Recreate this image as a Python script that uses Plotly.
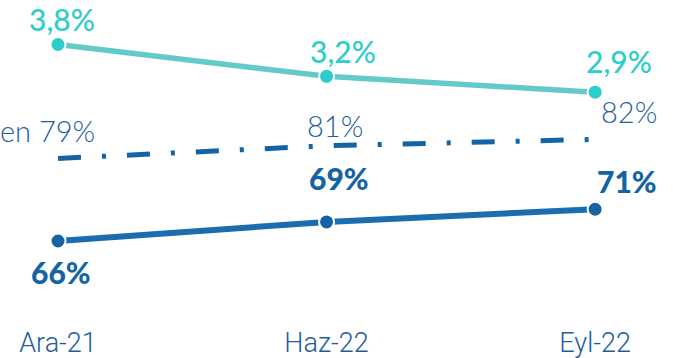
import plotly.graph_objects as go

# Periods and ratios
categories = ["Ara-21", "Haz-22", "Eyl-22"]
npl_ratio = [3.8, 3.2, 2.9]          # teal series, right scale
coverage_total = [79, 81, 82]        # dash-dot series
coverage_stage = [66, 69, 71]        # solid series
total_prefix = ["en ", "", ""]

TEAL_LINE = "#62CBC9"
TEAL_DOT = "#2CCDCB"
BLUE = "#1464A5"
BLUE_LINE = "#1A6DB0"
BLUE_TEXT = "#1F5E9E"


def pct_tr(v, decimals=0):
    s = f"{v:.{decimals}f}".replace(".", ",")
    return s + "%"


fig = go.Figure()

fig.add_trace(go.Scatter(
    x=categories, y=coverage_total, mode="lines",
    line=dict(color=BLUE, width=5, dash="23px,21px,4px,21px"),
    hoverinfo="skip", showlegend=False,
))
fig.add_trace(go.Scatter(
    x=categories, y=coverage_stage, mode="lines+markers",
    line=dict(color=BLUE_LINE, width=6),
    marker=dict(size=15, color=BLUE, line=dict(color="white", width=2)),
    hoverinfo="skip", showlegend=False,
))
fig.add_trace(go.Scatter(
    x=categories, y=npl_ratio, mode="lines+markers", yaxis="y2",
    line=dict(color=TEAL_LINE, width=5.5),
    marker=dict(size=15, color=TEAL_DOT, line=dict(color="white", width=2)),
    hoverinfo="skip", showlegend=False,
))

annotations = []
teal_shift = [(4, 26), (16, 25), (24, 31)]
for c, v, (dx, dy) in zip(categories, npl_ratio, teal_shift):
    annotations.append(dict(
        x=c, y=v, yref="y2", text=pct_tr(v, 1), showarrow=False,
        xshift=dx, yshift=dy,
        font=dict(family="Lato", size=30, color=TEAL_DOT, weight=500),
    ))

total_shift = [(-11, 28), (8, 20), (34, 28)]
for c, v, p, (dx, dy) in zip(categories, coverage_total, total_prefix, total_shift):
    annotations.append(dict(
        x=c, y=v, text=p + pct_tr(v), showarrow=False,
        xshift=dx, yshift=dy,
        font=dict(family="Lato", size=29, color=BLUE_TEXT, weight=300),
    ))

stage_shift = [(3, -31), (12, 44), (32, 28)]
for c, v, (dx, dy) in zip(categories, coverage_stage, stage_shift):
    annotations.append(dict(
        x=c, y=v, text=pct_tr(v), showarrow=False,
        xshift=dx, yshift=dy,
        font=dict(family="Lato", size=30, color=BLUE, weight=900),
    ))

fig.update_layout(
    width=673, height=358,
    margin=dict(l=0, r=0, t=0, b=40),
    paper_bgcolor="white", plot_bgcolor="white",
    xaxis=dict(
        type="category", range=[-0.216, 2.29],
        showgrid=False, zeroline=False, showline=False, ticks="",
        ticklabelstandoff=6,
        tickfont=dict(family="Roboto", size=27, color=BLUE_TEXT, weight=300),
    ),
    yaxis=dict(range=[53.87, 103.95], visible=False),
    yaxis2=dict(range=[-1.36, 4.64], visible=False, overlaying="y"),
    annotations=annotations,
)

fig.write_html("out.html")
